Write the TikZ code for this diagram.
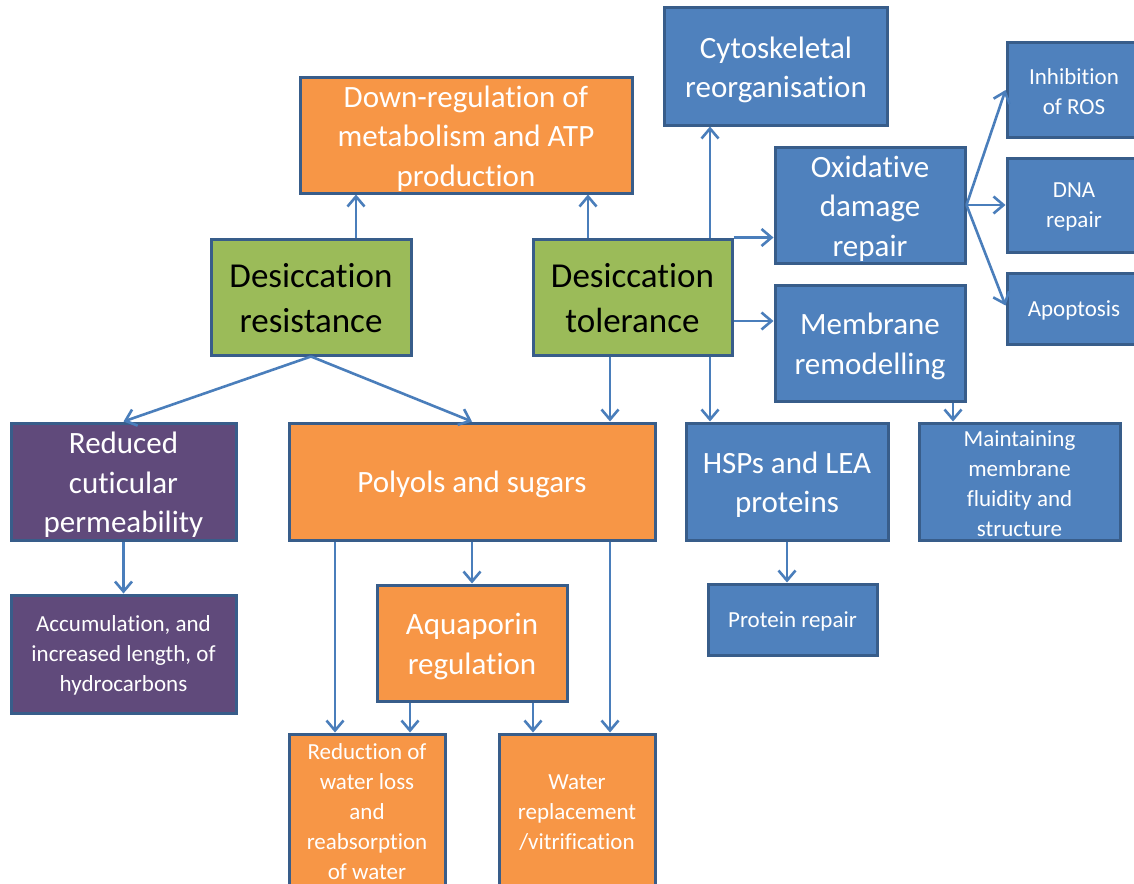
\documentclass[tikz,border=0pt]{standalone}
\usepackage{fontspec}
\setmainfont{Carlito}[Ligatures=CommonOff]
\usetikzlibrary{arrows.meta}
\definecolor{borderc}{HTML}{385D8A}
\definecolor{orangef}{HTML}{F79646}
\definecolor{bluef}{HTML}{4F81BD}
\definecolor{greenf}{HTML}{9BBB59}
\definecolor{purplef}{HTML}{604A7B}
\definecolor{arrowc}{HTML}{4A7EBB}
\newcommand{\bup}{\rule{0pt}{27pt}}
\newcommand{\mup}{\rule{0pt}{28pt}}
\newcommand{\lup}{\rule{0pt}{19.5pt}}
\begin{document}
\begin{tikzpicture}[x=1pt,y=-1pt,
  box/.style={draw=borderc, line width=3pt, inner sep=0pt, align=center, text=white},
  bigtxt/.style={font=\fontsize{35}{45}\selectfont},
  midtxt/.style={font=\fontsize{31}{39.5}\selectfont},
  smalltxt/.style={font=\fontsize{23}{30}\selectfont},
  org/.style={box, fill=orangef},
  blu/.style={box, fill=bluef},
  grn/.style={box, fill=greenf, text=black},
  prp/.style={box, fill=purplef},
  arr/.style={draw=arrowc, line width=2.6pt, -{Straight Barb[length=10pt,width=17pt]}}
]
\useasboundingbox (0,0) rectangle (1134,883);
\clip (0,0) rectangle (1134,883);
\fill[white] (0,0) rectangle (1134,883);

% top row
\node[org, midtxt, minimum width=332pt, minimum height=116pt] (down) at (466,135) {\mup Down-regulation of\\metabolism and ATP\\production};
\node[blu, midtxt, minimum width=223pt, minimum height=117pt] (cyto) at (776,66.5) {\mup Cytoskeletal\\reorganisation};
\node[grn, bigtxt, minimum width=200pt, minimum height=116pt] (res) at (311,297) {\bup Desiccation\\resistance};
\node[grn, bigtxt, minimum width=199pt, minimum height=116pt] (tol) at (632.5,297) {\bup Desiccation\\tolerance};
\node[blu, midtxt, minimum width=190pt, minimum height=116pt] (oxid) at (870,205) {\mup Oxidative\\damage\\repair};
\node[blu, midtxt, minimum width=190pt, minimum height=116pt] (memb) at (870,343) {\mup Membrane\\remodelling};
\node[blu, smalltxt, minimum width=134pt, minimum height=94pt] (inh) at (1074,90) {\lup Inhibition\\of ROS};
\node[blu, smalltxt, minimum width=134pt, minimum height=94pt] (dna) at (1074,205) {\lup DNA\\repair};
\node[blu, smalltxt, minimum width=134pt, minimum height=71pt] (apo) at (1074,308.5) {\lup Apoptosis};

% middle row
\node[prp, midtxt, minimum width=225pt, minimum height=117pt] (red) at (123.5,481.5) {\mup Reduced\\cuticular\\permeability};
\node[org, midtxt, minimum width=366pt, minimum height=117pt] (poly) at (472,481.5) {\mup Polyols and sugars};
\node[blu, midtxt, minimum width=202pt, minimum height=117pt] (hsp) at (787,481.5) {\mup HSPs and LEA\\proteins};
\node[blu, smalltxt, minimum width=201pt, minimum height=117pt] (maint) at (1019.5,481.5) {\lup Maintaining\\membrane\\fluidity and\\structure};

% lower rows
\node[prp, smalltxt, minimum width=225pt, minimum height=118pt] (acc) at (123.5,654) {\lup Accumulation, and\\increased length, of\\hydrocarbons};
\node[org, midtxt, minimum width=190pt, minimum height=116pt] (aqua) at (472,643) {\mup Aquaporin\\regulation};
\node[blu, smalltxt, minimum width=169pt, minimum height=71pt] (prot) at (792.5,619.5) {\lup Protein repair};
\node[org, smalltxt, minimum width=156pt, minimum height=152pt] (redw) at (367,810) {\lup Reduction of\\water loss\\and\\reabsorption\\of water};
\node[org, smalltxt, minimum width=156pt, minimum height=152pt] (water) at (577,810) {\lup Water\\replacement\\/vitrification};

% connectors
\draw[arr] ([xshift=45pt]res.north) -- ([xshift=45pt]res.north |- down.south);
\draw[arr] ([xshift=-44.5pt]tol.north) -- ([xshift=-44.5pt]tol.north |- down.south);
\draw[arr] ([xshift=77.5pt]tol.north) -- ([xshift=77.5pt]tol.north |- cyto.south);
\draw[arr] (tol.north east) -- (tol.north east -| oxid.west);
\draw[arr] ([yshift=-24pt]tol.east) -- ([yshift=-24pt]tol.east -| memb.west);
\draw[arr] ([xshift=-22.5pt]tol.south) -- ([xshift=-22.5pt]tol.south |- poly.north);
\draw[arr] ([xshift=77.5pt]tol.south) -- ([xshift=77.5pt]tol.south |- hsp.north);
\draw[arr] ([xshift=83pt]memb.south) -- ([xshift=83pt]memb.south |- maint.north);
\draw[arr] (oxid.east) -- (inh.west);
\draw[arr] (oxid.east) -- (dna.west);
\draw[arr] (oxid.east) -- ([yshift=3pt]apo.west);
\draw[arr] (res.south) -- (red.north);
\draw[arr] (res.south) -- (poly.north);
\draw[arr] (red.south) -- (acc.north);
\draw[arr] (poly.south) -- (aqua.north);
\draw[arr] ([xshift=-137pt]poly.south) -- ([xshift=-137pt]poly.south |- redw.north);
\draw[arr] ([xshift=138pt]poly.south) -- ([xshift=138pt]poly.south |- water.north);
\draw[arr] ([xshift=-62pt]aqua.south) -- ([xshift=-62pt]aqua.south |- redw.north);
\draw[arr] ([xshift=61pt]aqua.south) -- ([xshift=61pt]aqua.south |- water.north);
\draw[arr] (hsp.south) -- (hsp.south |- prot.north);
\end{tikzpicture}
\end{document}
